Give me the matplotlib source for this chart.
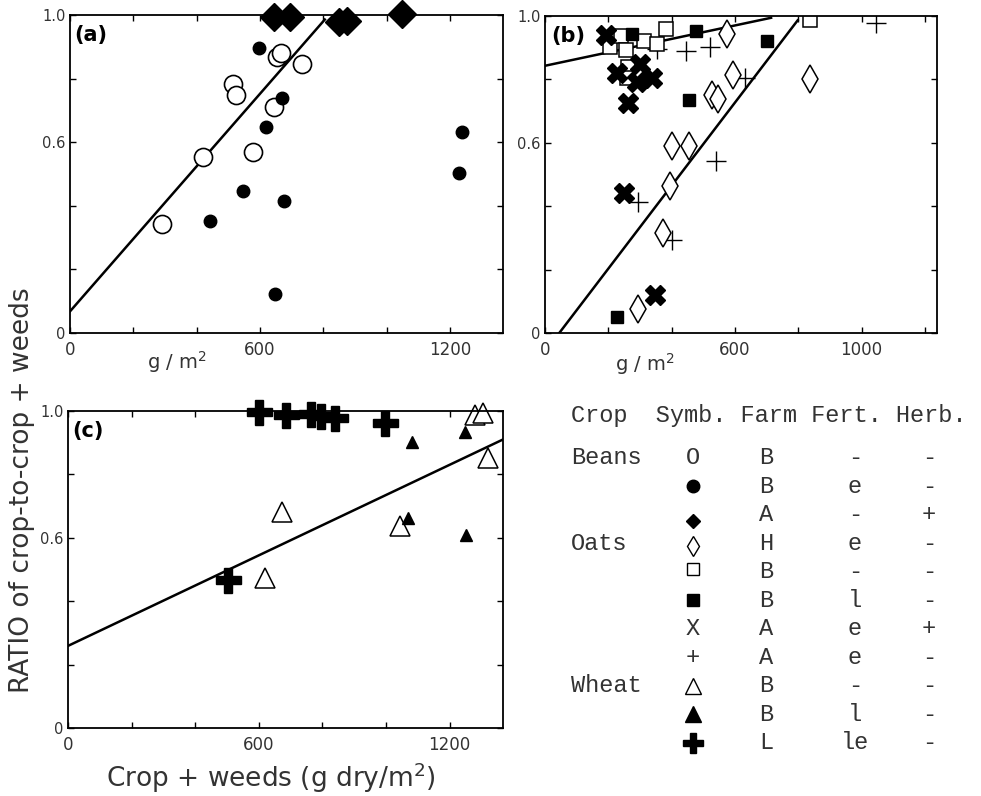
import matplotlib
matplotlib.use("Agg")
import matplotlib.pyplot as plt
import numpy as np

# ---- panel (a): beans ----
beans_open_x = [291, 421, 514, 524, 577, 643, 654, 668, 734]
beans_open_y = [0.342, 0.554, 0.782, 0.748, 0.570, 0.711, 0.867, 0.881, 0.846]
beans_fert_x = [596, 671, 620, 547, 677, 442, 648, 1240, 1229]
beans_fert_y = [0.895, 0.740, 0.648, 0.446, 0.414, 0.353, 0.122, 0.631, 0.504]
beans_herb_x = [644, 695, 851, 876, 1049]
beans_herb_y = [0.995, 0.995, 0.979, 0.982, 1.003]
line_a = [0.068, 0.00114, 0, 805]  # intercept, slope, x start, x end

# ---- panel (b): oats ----
oats_h_x = [574, 595, 528, 547, 402, 455, 395, 372, 295, 837]
oats_h_y = [0.942, 0.814, 0.752, 0.738, 0.591, 0.591, 0.464, 0.315, 0.076, 0.801]
oats_b_x = [205, 239, 256, 261, 259, 313, 353, 381, 837]
oats_b_y = [0.902, 0.936, 0.892, 0.839, 0.803, 0.921, 0.911, 0.958, 0.986]
oats_bl_x = [274, 477, 700, 455, 228]
oats_bl_y = [0.944, 0.953, 0.920, 0.735, 0.052]
oats_aeh_x = [192, 300, 228, 292, 337, 263, 249, 347]
oats_aeh_y = [0.939, 0.850, 0.821, 0.792, 0.805, 0.724, 0.441, 0.121]
oats_ae_x = [444, 521, 355, 632, 539, 295, 400, 1045]
oats_ae_y = [0.890, 0.902, 0.895, 0.803, 0.544, 0.414, 0.292, 0.978]
line_b1 = [0.843, 0.000212, 0, 714]
line_b2 = [-0.059, 0.00131, 45, 798]

# ---- panel (c): wheat ----
wheat_b_x = [674, 621, 1044, 1280, 1305, 1321]
wheat_b_y = [0.682, 0.472, 0.637, 0.987, 0.994, 0.852]
wheat_bl_x = [1082, 1248, 1070, 1252]
wheat_bl_y = [0.902, 0.934, 0.664, 0.608]
wheat_l_x = [600, 686, 765, 795, 840, 997, 502]
wheat_l_y = [0.997, 0.987, 0.990, 0.985, 0.978, 0.962, 0.466]
line_c = [0.259, 0.000476, 0, 1368]

# ---- key table ----
key_crop = ["Beans", "", "", "Oats", "", "", "", "", "Wheat", "", ""]
key_farm = ["B", "B", "A", "H", "B", "B", "A", "A", "B", "B", "L"]
key_fert = ["-", "e", "-", "e", "-", "l", "e", "e", "-", "l", "le"]
key_herb = ["-", "-", "+", "-", "-", "-", "+", "-", "-", "-", "-"]

txtc = "#333333"
fig = plt.figure(figsize=(9.81, 7.96), dpi=100)

def setup(ax, xmax, xlabels):
    ax.set_xlim(0, xmax)
    ax.set_ylim(0, 1.0)
    ax.set_xticks(range(0, 1201, 200))
    ax.set_xticklabels(xlabels)
    ax.set_yticks([0, 0.2, 0.4, 0.6, 0.8, 1.0])
    ax.set_yticklabels(["0", "", "", "0.6", "", "1.0"])
    ax.tick_params(direction="in", length=4, width=1, top=True, right=True,
                   labelcolor=txtc)
    ax.tick_params(axis="x", labelsize=12, pad=6)
    ax.tick_params(axis="y", labelsize=10.5, pad=3)
    for s in ax.spines.values():
        s.set_linewidth(1.3)

def fitline(ax, p):
    xs = np.array([p[2], p[3]])
    ax.plot(xs, p[0] + p[1] * xs, color="black", lw=1.8)

axa = fig.add_axes([70/981, 1-333/796, 433/981, 318/796])
setup(axa, 1368, ["0", "", "", "600", "", "", "1200"])
fitline(axa, line_a)
axa.plot(beans_open_x, beans_open_y, "o", ms=13, mfc="white", mec="black", mew=1.2)
axa.plot(beans_fert_x, beans_fert_y, "o", ms=9, color="black")
axa.plot(beans_herb_x, beans_herb_y, "D", ms=14, color="black", clip_on=False)
axa.text(0.01, 0.97, "(a)", transform=axa.transAxes, fontsize=15, fontweight="bold",
         va="top", ha="left")
fig.text(177/981, 1-362/796, "g / m$^2$", fontsize=14, color=txtc, ha="center", va="center")

axb = fig.add_axes([545/981, 1-333/796, 392/981, 317/796])
setup(axb, 1238, ["0", "", "", "600", "", "1000", ""])
fitline(axb, line_b1)
fitline(axb, line_b2)
axb.plot(oats_ae_x, oats_ae_y, "+", ms=14, color="black", mew=1.0)
axb.plot(oats_h_x, oats_h_y, "d", ms=14, mfc="white", mec="black", mew=1.1)
axb.plot(oats_b_x, oats_b_y, "s", ms=10, mfc="white", mec="black", mew=1.1)
axb.plot(oats_bl_x, oats_bl_y, "s", ms=9, color="black")
axb.plot(oats_aeh_x, oats_aeh_y, "X", ms=14, color="black")
axb.text(0.015, 0.97, "(b)", transform=axb.transAxes, fontsize=15, fontweight="bold",
         va="top", ha="left")
fig.text(645/981, 1-364/796, "g / m$^2$", fontsize=14, color=txtc, ha="center", va="center")

axc = fig.add_axes([68/981, 1-728/796, 435/981, 317/796])
setup(axc, 1368, ["0", "", "", "600", "", "", "1200"])
fitline(axc, line_c)
axc.plot(wheat_b_x, wheat_b_y, "^", ms=15, mfc="white", mec="black", mew=1.1, clip_on=False)
axc.plot(wheat_bl_x, wheat_bl_y, "^", ms=9, color="black")
axc.plot(wheat_l_x, wheat_l_y, "P", ms=18, color="black", clip_on=False)
axc.text(0.01, 0.97, "(c)", transform=axc.transAxes, fontsize=15, fontweight="bold",
         va="top", ha="left")

fig.text(271/981, 1-778/796, "Crop + weeds (g dry/m$^2$)", fontsize=19, color=txtc,
         ha="center", va="center")
fig.text(22/981, 1-490/796, "RATIO of crop-to-crop + weeds", fontsize=19, color=txtc,
         rotation=90, ha="center", va="center")

# key table: rows at integer y, x in pixel-like units
axk = fig.add_axes([540/981, 36/796, 441/981, 360/796])
axk.set_xlim(540, 981)
axk.set_ylim(10.6, -2.035)
axk.axis("off")
mono = dict(family="Liberation Mono", fontsize=17, color=txtc, va="center")
axk.text(571, -1.5, "Crop  Symb. Farm Fert. Herb.", ha="left", **mono)
rows = np.arange(len(key_crop))
for i in rows:
    axk.text(571, i, key_crop[i], ha="left", **mono)
    axk.text(766, i, key_farm[i], ha="center", **mono)
    axk.text(855, i, key_fert[i], ha="center", **mono)
    axk.text(929, i, key_herb[i], ha="center", **mono)
sx = 693
axk.text(sx, 0, "O", ha="center", **mono)
axk.plot(sx, 1, "o", ms=9, color="black")
axk.plot(sx, 2.2, "D", ms=7, color="black")
axk.plot(sx, 3.1, "d", ms=10, mfc="white", mec="black", mew=1)
axk.plot(sx, 3.9, "s", ms=8, mfc="white", mec="black", mew=1)
axk.plot(sx, 5, "s", ms=8, color="black")
axk.text(sx, 6, "X", ha="center", **mono)
axk.text(sx, 7, "+", ha="center", **mono)
axk.plot(sx, 8, "^", ms=11, mfc="white", mec="black", mew=1)
axk.plot(sx, 9, "^", ms=11, color="black")
axk.plot(sx, 10, "P", ms=15, color="black")

fig.savefig("out.png", dpi=100)
